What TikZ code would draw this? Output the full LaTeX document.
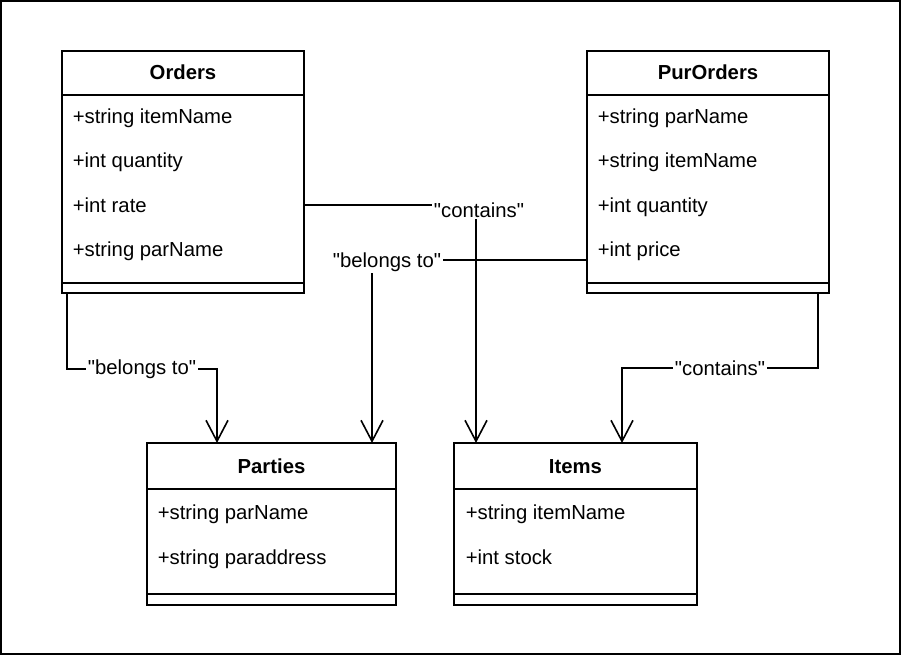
\documentclass[tikz,border=0pt]{standalone}
\usepackage{fontspec}
\setmainfont{Liberation Sans}[Ligatures=TeXOff]
\usetikzlibrary{arrows.meta,calc}
\begin{document}
\begin{tikzpicture}[x=1pt,y=-1pt,line width=1.6pt,
  umlbox/.style={draw,rectangle,inner sep=0pt,outer sep=0pt,anchor=north west,minimum width=#1},
  attr/.style={anchor=base west,inner sep=0pt,font=\fontsize{20.3}{24}\selectfont},
  ttl/.style={anchor=base,inner sep=0pt,font=\fontsize{20.3}{24}\selectfont\bfseries},
  lbl/.style={fill=white,inner sep=2pt,font=\fontsize{20.3}{24}\selectfont},
  arr/.style={-{Straight Barb[length=21pt,width=22pt]}}]
\useasboundingbox (0,0) rectangle (902,655);
\draw[line width=2pt] (1,1) rectangle (900,654);

% Orders
\node[umlbox=242pt,minimum height=242pt] (orders) at (62,51) {};
\draw (orders.north west) ++(0,44) -- ++(242,0);
\draw (orders.south west) ++(0,-10) -- ++(242,0);
\node[ttl] (ordersT) at (183,80) {Orders};
\node[attr] (o1) at (72,124) {+string itemName};
\node[attr] (o2) at (72,168) {+int quantity};
\node[attr] (o3) at (72,212) {+int rate};
\node[attr] (o4) at (72,256) {+string parName};

% PurOrders
\node[umlbox=242pt,minimum height=242pt] (purorders) at (587,51) {};
\draw (purorders.north west) ++(0,44) -- ++(242,0);
\draw (purorders.south west) ++(0,-10) -- ++(242,0);
\node[ttl] (purT) at (708,80) {PurOrders};
\node[attr] (p1) at (597,124) {+string parName};
\node[attr] (p2) at (597,168) {+string itemName};
\node[attr] (p3) at (597,212) {+int quantity};
\node[attr] (p4) at (597,256) {+int price};

% Parties
\node[umlbox=249pt,minimum height=162pt] (parties) at (147,443) {};
\draw (parties.north west) ++(0,46) -- ++(249,0);
\draw (parties.south west) ++(0,-11) -- ++(249,0);
\node[ttl] (partiesT) at (271.5,473) {Parties};
\node[attr] (a1) at (157,519) {+string parName};
\node[attr] (a2) at (157,564) {+string paraddress};

% Items
\node[umlbox=243pt,minimum height=162pt] (items) at (454,443) {};
\draw (items.north west) ++(0,46) -- ++(243,0);
\draw (items.south west) ++(0,-11) -- ++(243,0);
\node[ttl] (itemsT) at (575.5,473) {Items};
\node[attr] (i1) at (465,519) {+string itemName};
\node[attr] (i2) at (465,564) {+int stock};

% attachment points
\coordinate (oB) at ([xshift=5pt]orders.south west);
\coordinate (oR) at ([yshift=-33pt]orders.east);
\coordinate (uW) at ([yshift=-88pt]purorders.west);
\coordinate (uB) at ([xshift=-11pt]purorders.south east);
\coordinate (pA) at ([xshift=70pt]parties.north west);
\coordinate (pB) at ([xshift=225pt]parties.north west);
\coordinate (iA) at ([xshift=22pt]items.north west);
\coordinate (iB) at ([xshift=168pt]items.north west);

% connectors
\draw[arr] (oB) -- ++(0,76) -| node[lbl,pos=0.25] {"belongs to"} (pA);
\draw[arr] (oR) -| node[lbl,pos=0.5,xshift=3pt,yshift=-5pt] {"contains"} (iA);
\draw[arr] (uW) -| node[lbl,pos=0.5,xshift=15pt,yshift=-2pt] {"belongs to"} (pB);
\draw[arr] (uB) -- ++(0,75) -| node[lbl,pos=0.25] {"contains"} (iB);
\end{tikzpicture}
\end{document}
